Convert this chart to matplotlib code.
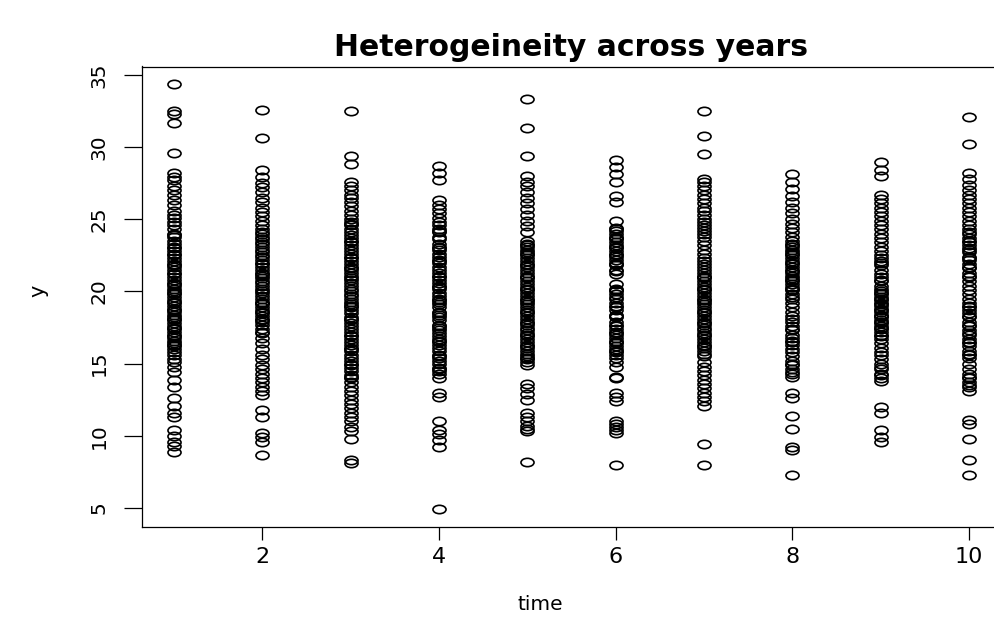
import numpy as np
import matplotlib
matplotlib.use("Agg")
import matplotlib.pyplot as plt
from matplotlib.path import Path
from matplotlib.transforms import Affine2D

# y values, one list per time point
t1 = [34.4, 32.5, 32.3, 31.7, 29.6, 28.2, 27.9, 27.7, 27.3, 27.0, 26.7, 26.3, 26.0, 25.6, 25.3, 25.1,
      24.8, 24.6, 24.3, 24.0, 23.8, 23.5, 23.3, 23.0, 22.8, 22.5, 22.3, 22.1, 21.9, 21.7, 21.5, 21.2,
      21.0, 20.8, 20.6, 20.4, 20.2, 20.0, 19.8, 19.6, 19.4, 19.2, 19.0, 18.8, 18.6, 18.4, 18.2, 18.0,
      17.8, 17.6, 17.4, 17.2, 17.0, 16.8, 16.6, 16.4, 16.2, 16.0, 15.8, 15.6, 15.3, 15.1, 14.8, 14.4,
      13.9, 13.4, 12.6, 12.1, 11.6, 11.3, 10.4, 10.0, 9.6, 9.3, 8.9,
      23.9, 23.1, 22.6, 21.8, 21.3, 20.5, 19.9, 19.3, 18.7, 18.1, 17.5, 16.9, 16.3]
t2 = [32.6, 30.6, 28.4, 27.9, 27.5, 27.2, 26.9, 26.5, 26.2, 25.8, 25.5, 25.2, 24.9, 24.6, 24.3, 24.1,
      23.8, 23.6, 23.4, 23.1, 22.9, 22.7, 22.4, 22.2, 22.0, 21.7, 21.5, 21.3, 21.1, 20.9, 20.6, 20.4,
      20.2, 20.0, 19.7, 19.5, 19.3, 19.1, 18.9, 18.7, 18.5, 18.3, 18.1, 17.9, 17.7, 17.4, 17.1, 16.8,
      16.4, 16.0, 15.6, 15.3, 14.9, 14.6, 14.3, 14.0, 13.7, 13.4, 13.1, 12.8, 11.8, 11.3, 10.2, 9.9,
      9.6, 8.7,
      24.0, 23.3, 22.5, 21.9, 21.2, 20.7, 19.9, 19.2, 18.6, 18.0, 17.2]
t3 = [32.5, 29.4, 28.8, 27.6, 27.3, 27.0, 26.7, 26.5, 26.2, 25.9, 25.6, 25.3, 25.0, 24.8, 24.6, 24.3,
      24.1, 23.9, 23.7, 23.4, 23.2, 23.0, 22.8, 22.6, 22.4, 22.1, 21.9, 21.7, 21.5, 21.3, 21.1, 20.8,
      20.6, 20.4, 20.2, 20.0, 19.7, 19.5, 19.3, 19.1, 18.9, 18.7, 18.5, 18.2, 18.0, 17.8, 17.6, 17.4,
      17.2, 16.9, 16.7, 16.5, 16.3, 16.1, 15.9, 15.6, 15.4, 15.2, 14.9, 14.7, 14.5, 14.2, 14.0, 13.7,
      13.4, 13.1, 12.8, 12.5, 12.2, 11.9, 11.6, 11.3, 11.0, 10.6, 10.3, 9.8, 8.3, 8.1,
      24.7, 23.5, 22.3, 21.6, 20.9, 19.8, 19.0, 18.1, 17.0, 16.0, 15.0, 14.1]
t4 = [28.7, 28.2, 27.7, 26.3, 26.0, 25.7, 25.4, 25.1, 24.8, 24.6, 24.3, 24.1, 23.8, 23.6, 23.3, 23.1,
      22.9, 22.6, 22.4, 22.2, 22.0, 21.7, 21.5, 21.3, 21.0, 20.8, 20.6, 20.4, 20.2, 19.9, 19.7, 19.5,
      19.3, 19.1, 18.9, 18.6, 18.4, 18.2, 18.0, 17.7, 17.5, 17.3, 17.1, 16.9, 16.7, 16.5, 16.3, 16.1,
      15.9, 15.6, 15.4, 15.2, 15.0, 14.7, 14.5, 14.3, 14.0, 13.0, 12.7, 11.0, 10.4, 10.1, 9.7, 9.2, 4.9,
      24.2, 23.0, 22.1, 21.1, 20.3, 19.4, 18.5, 17.6, 16.6, 15.5, 14.6]
t5 = [33.3, 31.3, 29.4, 28.0, 27.6, 27.3, 26.9, 26.5, 26.1, 25.7, 25.3, 24.9, 24.5, 24.1, 23.5, 23.3,
      23.1, 22.9, 22.7, 22.5, 22.3, 22.1, 21.9, 21.7, 21.5, 21.3, 21.1, 20.9, 20.7, 20.5, 20.3, 20.1,
      19.9, 19.7, 19.5, 19.3, 19.1, 18.9, 18.7, 18.5, 18.3, 18.1, 17.9, 17.7, 17.5, 17.3, 17.1, 16.9,
      16.7, 16.5, 16.3, 16.1, 15.9, 15.7, 15.5, 15.3, 15.1, 14.9, 13.6, 13.3, 12.9, 12.5, 11.6, 11.3,
      11.0, 10.7, 10.5, 10.3, 8.2,
      23.2, 22.6, 21.8, 21.0, 20.2, 19.4, 18.6, 17.8, 17.0, 16.2, 15.4]
t6 = [29.1, 28.6, 28.1, 27.6, 26.6, 26.2, 24.9, 24.4, 24.2, 24.0, 23.8, 23.6, 23.4, 23.2, 23.0, 22.8,
      22.6, 22.4, 22.2, 22.0, 21.8, 21.5, 21.2, 20.5, 20.2, 20.0, 19.8, 19.5, 19.2, 19.0, 18.7, 18.4,
      18.2, 17.9, 17.6, 17.4, 17.2, 17.0, 16.8, 16.6, 16.4, 16.2, 16.0, 15.8, 15.6, 15.4, 15.1, 14.8,
      14.1, 14.0, 13.0, 12.7, 12.4, 11.0, 10.8, 10.6, 10.4, 10.2, 8.0,
      24.3, 23.7, 23.1, 22.5, 21.9, 21.4, 20.1, 19.6, 18.9, 18.3, 17.7, 17.1, 16.5, 15.9]
t7 = [32.5, 30.8, 29.5, 27.8, 27.6, 27.3, 27.0, 26.7, 26.4, 26.1, 25.8, 25.6, 25.3, 25.0, 24.8, 24.6,
      24.4, 24.2, 24.0, 23.8, 23.5, 23.2, 22.9, 22.6, 22.3, 22.1, 21.9, 21.7, 21.5, 21.3, 21.1, 20.9,
      20.7, 20.5, 20.3, 20.1, 19.9, 19.7, 19.5, 19.3, 19.1, 18.9, 18.7, 18.5, 18.3, 18.1, 17.9, 17.7,
      17.5, 17.3, 17.1, 16.9, 16.7, 16.5, 16.3, 16.1, 15.9, 15.7, 15.5, 15.1, 14.8, 14.5, 14.2, 13.9,
      13.6, 13.3, 13.0, 12.7, 12.4, 12.1, 9.4, 8.0,
      21.0, 20.2, 19.4, 18.6, 17.8, 17.0, 16.2]
t8 = [28.1, 27.6, 27.1, 26.6, 26.2, 25.8, 25.4, 25.0, 24.7, 24.4, 24.1, 23.8, 23.5, 23.3, 23.1, 22.9,
      22.7, 22.5, 22.3, 22.1, 21.9, 21.7, 21.5, 21.3, 21.1, 20.9, 20.7, 20.5, 20.3, 20.1, 19.8, 19.5,
      19.2, 18.9, 18.6, 18.3, 18.1, 17.9, 17.6, 17.3, 17.0, 16.8, 16.6, 16.3, 16.0, 15.8, 15.5, 15.2,
      14.9, 14.6, 14.3, 14.1, 13.0, 12.6, 11.4, 10.5, 9.2, 9.0, 7.3,
      23.2, 22.6, 22.0, 21.4, 20.8, 20.2, 19.6, 17.4, 16.5, 15.0, 14.4]
t9 = [29.0, 28.4, 28.0, 26.7, 26.4, 26.1, 25.8, 25.5, 25.2, 24.9, 24.6, 24.3, 24.0, 23.7, 23.4, 23.1,
      22.8, 22.5, 22.3, 22.0, 21.8, 21.5, 21.2, 21.0, 20.7, 20.4, 20.2, 20.0, 19.8, 19.6, 19.4, 19.2,
      19.0, 18.8, 18.6, 18.4, 18.2, 18.0, 17.8, 17.6, 17.4, 17.2, 17.0, 16.7, 16.4, 16.1, 15.8, 15.6,
      15.3, 15.0, 14.8, 14.6, 14.3, 14.0, 13.8, 12.0, 11.6, 10.4, 9.9, 9.6,
      22.1, 20.8, 19.9, 19.5, 19.1, 18.7, 18.3, 17.9, 17.5, 16.9, 14.2]
t10 = [32.1, 30.2, 28.2, 27.8, 27.4, 27.0, 26.7, 26.4, 26.1, 25.8, 25.5, 25.2, 24.9, 24.6, 24.3, 24.0,
       23.7, 23.4, 23.2, 23.0, 22.7, 22.4, 22.2, 21.9, 21.6, 21.3, 21.0, 20.7, 20.4, 20.1, 19.8, 19.5,
       19.2, 19.0, 18.7, 18.5, 18.2, 17.9, 17.6, 17.3, 17.0, 16.7, 16.5, 16.2, 15.9, 15.6, 15.4, 15.0,
       14.6, 14.3, 14.0, 13.7, 13.4, 13.1, 11.1, 10.8, 9.8, 8.3, 7.3,
       24.1, 23.5, 22.9, 22.3, 21.7, 21.1, 18.9, 18.3, 17.7, 17.1, 16.4, 15.7, 14.1, 13.5]

columns = [t1, t2, t3, t4, t5, t6, t7, t8, t9, t10]
xticks = [2, 4, 6, 8, 10]
yticks = [5, 10, 15, 20, 25, 30, 35]

plt.rcParams['font.family'] = ['DejaVu Sans']

fig = plt.figure(figsize=(9.95, 6.21), dpi=100)
# axes run past the right edge, like the cropped R plot
ax = fig.add_axes([142 / 995, 94.5 / 621, 859 / 995, 460 / 621])

# R style open circle, drawn a bit flattened
oval = Path.unit_circle().transformed(Affine2D().scale(1, 0.64))

for i, vals in enumerate(columns):
    x = [i + 1] * len(vals)
    ax.plot(x, vals, linestyle='none', marker=oval, markersize=9.4,
            markerfacecolor='none', markeredgecolor='black', markeredgewidth=1.2)

allvals = [v for c in columns for v in c]
lo, hi = min(allvals), max(allvals)
pad = (hi - lo) * 0.04
ax.set_ylim(lo - pad, hi + pad)
ax.set_xlim(1 - 0.36, 10 + 0.36)

ax.set_xticks(xticks)
ax.set_yticks(yticks)
ax.tick_params(axis='x', length=9, width=0.9, pad=6, labelsize=16)
ax.tick_params(axis='y', length=13, width=0.9, pad=11, labelsize=14.5)
for lab in ax.get_yticklabels():
    lab.set_rotation(90)
    lab.set_va('center')
for s in ax.spines.values():
    s.set_linewidth(0.9)
ax.spines['right'].set_visible(False)

fig.text(571 / 995, 1 - 47 / 621, 'Heterogeineity across years', ha='center', va='center',
         fontsize=21.5, fontweight='bold')
fig.text(540 / 995, 1 - 604 / 621, 'time', ha='center', va='center', fontsize=14.5)
fig.text(38 / 995, 1 - 291 / 621, 'y', ha='center', va='center', fontsize=15, rotation=90)

fig.savefig('out.png', dpi=100)
